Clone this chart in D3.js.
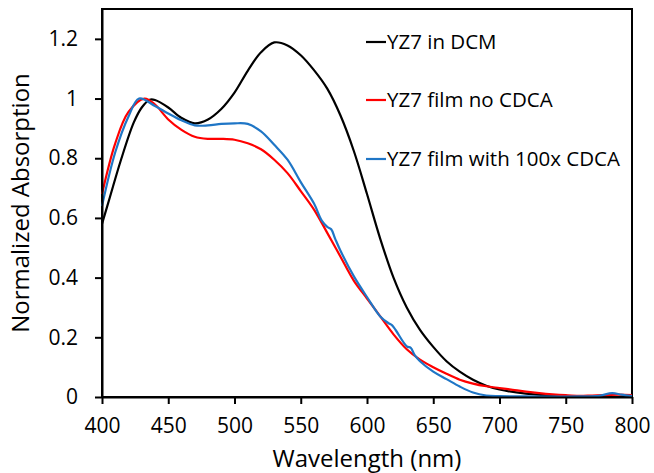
<!DOCTYPE html>
<html>
<head>
<meta charset="utf-8">
<script src="https://cdn.jsdelivr.net/npm/d3@7"></script>
<style>
  body { margin: 0; background: #fff; }
  text { font-family: "Open Sans", sans-serif; fill: #000; }
</style>
</head>
<body>
<div id="chart"></div>
<script>
// Wavelengths (nm) and normalized absorption values
var dcmWave = [400, 406, 414, 424, 430, 436, 440, 450, 460, 470, 480, 490, 500, 510, 520, 530, 540, 550, 560, 570, 580, 590, 600, 610, 620, 630, 640, 650, 660, 670, 680, 690, 700, 720, 740, 760, 780, 800];
var dcmAbs  = [0.58, 0.67, 0.79, 0.92, 0.97, 0.996, 0.995, 0.97, 0.935, 0.917, 0.93, 0.965, 1.02, 1.093, 1.155, 1.188, 1.178, 1.145, 1.095, 1.033, 0.943, 0.825, 0.68, 0.53, 0.40, 0.30, 0.225, 0.168, 0.12, 0.085, 0.058, 0.038, 0.025, 0.011, 0.004, 0.001, 0.0, 0.0];

var filmWave = [400, 410, 420, 432, 440, 450, 460, 470, 480, 490, 500, 510, 520, 530, 540, 550, 560, 570, 580, 590, 600, 610, 620, 630, 640, 650, 660, 670, 680, 690, 700, 710, 720, 730, 740, 750, 760, 770, 780, 790, 800];
var filmAbs  = [0.68, 0.85, 0.955, 1.0, 0.98, 0.93, 0.895, 0.872, 0.865, 0.865, 0.862, 0.85, 0.83, 0.795, 0.75, 0.69, 0.628, 0.55, 0.47, 0.39, 0.33, 0.27, 0.21, 0.16, 0.125, 0.10, 0.078, 0.058, 0.045, 0.036, 0.03, 0.024, 0.018, 0.013, 0.009, 0.006, 0.004, 0.005, 0.006, 0.008, 0.006];

var cdcaWave = [400, 410, 420, 428, 440, 450, 460, 470, 480, 490, 500, 510, 520, 530, 540, 550, 560, 566, 570, 573, 576, 580, 590, 600, 610, 616, 619, 622, 630, 633, 636, 640, 650, 660, 670, 680, 690, 700, 720, 740, 760, 775, 785, 792, 800];
var cdcaAbs  = [0.64, 0.82, 0.94, 1.0, 0.975, 0.95, 0.927, 0.91, 0.91, 0.915, 0.917, 0.915, 0.89, 0.845, 0.795, 0.72, 0.648, 0.59, 0.57, 0.562, 0.53, 0.49, 0.405, 0.335, 0.27, 0.248, 0.24, 0.222, 0.17, 0.165, 0.14, 0.12, 0.085, 0.06, 0.035, 0.015, 0.005, 0.003, 0.002, 0.001, 0.002, 0.004, 0.013, 0.008, 0.003];

var seriesNames = ["YZ7 in DCM", "YZ7 film no CDCA", "YZ7 film with 100x CDCA"];
var seriesColors = ["#000000", "#ff0000", "#1f76c6"];

var xTicks = [400, 450, 500, 550, 600, 650, 700, 750, 800];
var yTicks = [0, 0.2, 0.4, 0.6, 0.8, 1, 1.2];

function draw() {
  "use strict";
  var width = 654, height = 473;
  var plotLeft = 102, plotRight = 632, plotTop = 9, plotBottom = 397;

  var svg = d3.select("#chart")
              .append("svg")
              .attr("width", width)
              .attr("height", height);

  var xScale = d3.scaleLinear().domain([400, 800]).range([plotLeft, plotRight]);
  var yScale = d3.scaleLinear().domain([0, 1.3]).range([plotBottom, plotTop]);

  // frame round the plot
  svg.append("rect")
     .attr("x", plotLeft).attr("y", plotTop)
     .attr("width", plotRight - plotLeft).attr("height", plotBottom - plotTop)
     .attr("fill", "none").attr("stroke", "#000").attr("stroke-width", 2);

  var series = [
    { wave: dcmWave, abs: dcmAbs },
    { wave: filmWave, abs: filmAbs },
    { wave: cdcaWave, abs: cdcaAbs }
  ];

  var line = d3.line()
               .x(function(d) { return xScale(d[0]); })
               .y(function(d) { return yScale(d[1]); })
               .curve(d3.curveCatmullRom.alpha(0.5));

  series.forEach(function(s, i) {
    var pts = s.wave.map(function(w, j) { return [w, s.abs[j]]; });
    svg.append("path")
       .datum(pts)
       .attr("fill", "none")
       .attr("stroke", seriesColors[i])
       .attr("stroke-width", 2.2)
       .attr("stroke-linejoin", "round")
       .attr("d", line);
  });

  // axes
  var xAxis = d3.axisBottom(xScale)
                .tickValues(xTicks)
                .tickSizeInner(7)
                .tickSizeOuter(0)
                .tickPadding(14)
                .tickFormat(d3.format("d"));

  var yAxis = d3.axisLeft(yScale)
                .tickValues(yTicks)
                .tickSizeInner(7)
                .tickSizeOuter(0)
                .tickPadding(17)
                .tickFormat(function(d) { return d === 0 || d === 1 ? String(d) : d3.format(".1f")(d); });

  var gx = svg.append("g")
              .attr("transform", "translate(0," + plotBottom + ")")
              .call(xAxis);
  var gy = svg.append("g")
              .attr("transform", "translate(" + plotLeft + ",0)")
              .call(yAxis);

  [gx, gy].forEach(function(g) {
    g.select(".domain").attr("stroke", "#000").attr("stroke-width", 2);
    g.selectAll(".tick line").attr("stroke", "#000").attr("stroke-width", 2);
    g.selectAll(".tick text")
     .style("font-family", "'Open Sans', sans-serif")
     .style("font-size", "21px")
     .attr("fill", "#000");
  });

  // axis titles
  svg.append("text")
     .attr("x", (plotLeft + plotRight) / 2)
     .attr("y", 467)
     .attr("text-anchor", "middle")
     .style("font-size", "24px")
     .text("Wavelength (nm)");

  svg.append("text")
     .attr("transform", "translate(29," + ((plotTop + plotBottom) / 2) + ") rotate(-90)")
     .attr("text-anchor", "middle")
     .style("font-size", "24px")
     .text("Normalized Absorption");

  // legend
  var legendY = [42, 100, 159];
  seriesNames.forEach(function(name, i) {
    svg.append("line")
       .attr("x1", 366).attr("x2", 386)
       .attr("y1", legendY[i]).attr("y2", legendY[i])
       .attr("stroke", seriesColors[i])
       .attr("stroke-width", 2.2);
    svg.append("text")
       .attr("x", 387)
       .attr("y", legendY[i])
       .attr("dy", "0.35em")
       .style("font-size", "20.5px")
       .text(name);
  });
}

draw();
</script>
</body>
</html>
